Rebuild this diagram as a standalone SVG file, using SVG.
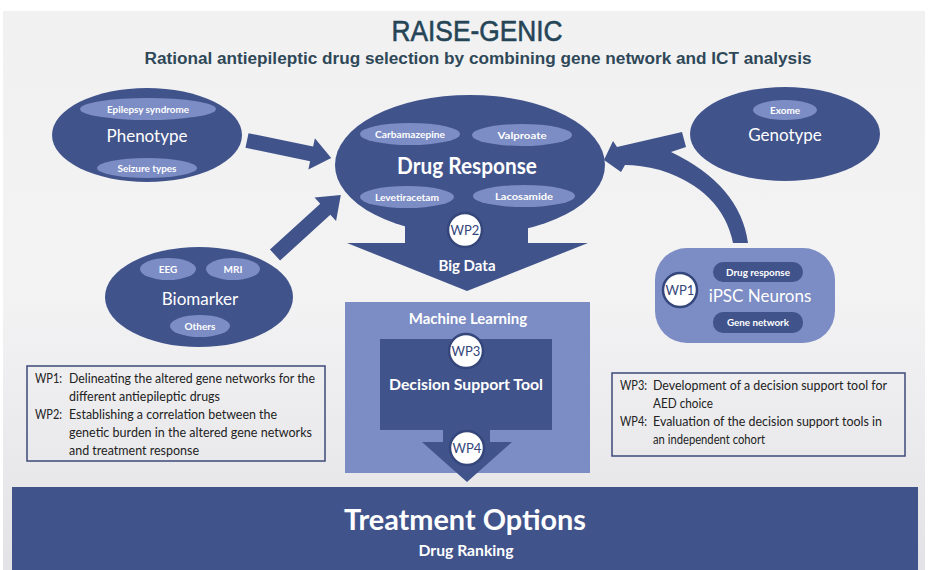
<svg xmlns="http://www.w3.org/2000/svg" width="930" height="570" viewBox="0 0 930 570">
<defs>
<linearGradient id="bg" x1="0" y1="0" x2="0" y2="1">
<stop offset="0" stop-color="#f1f1f2"/>
<stop offset="0.5" stop-color="#f3f3f4"/>
<stop offset="1" stop-color="#e3e3e7"/>
</linearGradient>
<style>
.dk{fill:#41538b}
.lt{fill:#7c8cc4}
.wt{fill:#ffffff;font-family:Lato,"Liberation Sans",sans-serif;text-anchor:middle}
.sm{font-size:10px;font-weight:bold}
.big{font-size:17px}
.wp{fill:#ffffff;stroke:#34467a;stroke-width:2.5}
.wpt{fill:#34467a;font-family:Lato,"Liberation Sans",sans-serif;font-size:13px;text-anchor:middle}
.box{fill:none;stroke:#3c4a78;stroke-width:1.5}
.bt{fill:#222;font-family:Lato,"Liberation Sans",sans-serif;font-size:13px}
.conn{fill:#41538b}
</style>
</defs>
<rect x="0" y="0" width="930" height="570" fill="#ffffff"/>
<rect x="3" y="11" width="922" height="559" fill="url(#bg)"/>

<g id="title">
<text x="477" y="41" font-family="'Liberation Sans',Arial,sans-serif" font-size="30" fill="#254557" stroke="#254557" stroke-width="0.6" text-anchor="middle" textLength="171" lengthAdjust="spacingAndGlyphs">RAISE-GENIC</text>
<text x="478" y="64" font-family="'Liberation Sans',Arial,sans-serif" font-size="16" font-weight="bold" fill="#2f4858" text-anchor="middle" textLength="667" lengthAdjust="spacingAndGlyphs">Rational antiepileptic drug selection by combining gene network and ICT analysis</text>
</g>

<g id="connectors">
<polygon class="conn" transform="translate(247,140.5) rotate(11.7)" points="0,-7.5 66,-7.5 66,-16 86,0 66,16 66,7.5 0,7.5"/>
<polygon class="conn" transform="translate(275,255) rotate(-42.3)" points="0,-7.5 68,-7.5 68,-16 89,0 68,16 68,7.5 0,7.5"/>
<path class="conn" d="M604,160 L613,141 L617,147 L682,132 L686,147 L671,152 Q740,185 748,243 L733,243 Q722,190 660,170 Q640,165 625,165 L621,172 Z"/>
</g>

<g id="phenotype">
<ellipse class="dk" cx="147" cy="135" rx="95" ry="47"/>
<ellipse class="lt" cx="148" cy="109" rx="68" ry="11"/>
<text class="wt sm" x="148" y="113" textLength="82" lengthAdjust="spacingAndGlyphs">Epilepsy syndrome</text>
<text class="wt big" x="147" y="142">Phenotype</text>
<ellipse class="lt" cx="147" cy="168" rx="50" ry="10"/>
<text class="wt sm" x="147" y="172" textLength="59" lengthAdjust="spacingAndGlyphs">Seizure types</text>
</g>

<g id="genotype">
<ellipse class="dk" cx="785" cy="134" rx="95" ry="47"/>
<ellipse class="lt" cx="785" cy="110" rx="32" ry="10"/>
<text class="wt sm" x="785" y="114">Exome</text>
<text class="wt big" x="785" y="141">Genotype</text>
</g>

<g id="biomarker">
<ellipse class="dk" cx="199" cy="297" rx="94" ry="50"/>
<ellipse class="lt" cx="168" cy="269" rx="28" ry="11"/>
<text class="wt sm" x="168" y="273">EEG</text>
<ellipse class="lt" cx="233" cy="269" rx="27" ry="11"/>
<text class="wt sm" x="233" y="273">MRI</text>
<text class="wt big" x="200" y="305">Biomarker</text>
<ellipse class="lt" cx="200" cy="326" rx="30" ry="11"/>
<text class="wt sm" x="200" y="330">Others</text>
</g>

<g id="drug-response">
<ellipse class="dk" cx="470" cy="165" rx="135" ry="70"/>
<polygon class="dk" points="405,225 528,225 528,243 588,243 467,291 347,243 405,243"/>
<ellipse class="lt" cx="410" cy="134" rx="50" ry="11"/>
<text class="wt sm" x="410" y="138" textLength="70" lengthAdjust="spacingAndGlyphs">Carbamazepine</text>
<ellipse class="lt" cx="522" cy="135" rx="50" ry="11"/>
<text class="wt sm" x="522" y="139" textLength="49" lengthAdjust="spacingAndGlyphs">Valproate</text>
<text class="wt" x="467" y="174" font-size="22" font-weight="bold" textLength="140" lengthAdjust="spacingAndGlyphs">Drug Response</text>
<ellipse class="lt" cx="407" cy="197" rx="47" ry="11"/>
<text class="wt sm" x="407" y="201" textLength="64" lengthAdjust="spacingAndGlyphs">Levetiracetam</text>
<ellipse class="lt" cx="524" cy="196" rx="51" ry="11"/>
<text class="wt sm" x="524" y="200" textLength="58" lengthAdjust="spacingAndGlyphs">Lacosamide</text>
<circle class="wp" cx="465" cy="230" r="17"/>
<text class="wpt" x="465" y="235">WP2</text>
<text class="wt" x="467" y="271" font-size="15" font-weight="bold">Big Data</text>
</g>

<g id="ipsc">
<rect class="lt" x="655" y="248" width="180" height="95" rx="32" ry="32"/>
<circle class="wp" cx="680" cy="290" r="17"/>
<text class="wpt" x="680" y="295">WP1</text>
<rect class="dk" x="713" y="262" width="90" height="20" rx="10" ry="10"/>
<text class="wt sm" x="758" y="276" textLength="64" lengthAdjust="spacingAndGlyphs">Drug response</text>
<text class="wt big" x="760" y="302">iPSC Neurons</text>
<rect class="dk" x="713" y="312" width="90" height="21" rx="10" ry="10"/>
<text class="wt sm" x="758" y="326" textLength="62" lengthAdjust="spacingAndGlyphs">Gene network</text>
</g>

<g id="machine-learning">
<rect class="lt" x="345" y="302" width="245" height="171"/>
<text class="wt" x="468" y="324" font-size="15" font-weight="bold">Machine Learning</text>
</g>

<g id="decision-support">
<rect class="dk" x="380" y="339" width="172" height="91"/>
<circle class="wp" cx="466" cy="351" r="17"/>
<text class="wpt" x="466" y="356">WP3</text>
<text class="wt" x="466" y="390" font-size="16" font-weight="bold" textLength="154" lengthAdjust="spacingAndGlyphs">Decision Support Tool</text>
<polygon class="dk" points="443,429 490,429 490,442 512,442 467,482 422,442 443,442"/>
<circle class="wp" cx="467" cy="448" r="17"/>
<text class="wpt" x="467" y="453">WP4</text>
</g>

<g id="wp12-box">
<rect class="box" x="27" y="366" width="298" height="95"/>
<text class="bt" x="35" y="383" textLength="27" lengthAdjust="spacingAndGlyphs">WP1:</text>
<text class="bt" x="69" y="383" textLength="246" lengthAdjust="spacingAndGlyphs">Delineating the altered gene networks for the</text>
<text class="bt" x="69" y="401" textLength="151" lengthAdjust="spacingAndGlyphs">different antiepileptic drugs</text>
<text class="bt" x="35" y="419" textLength="27" lengthAdjust="spacingAndGlyphs">WP2:</text>
<text class="bt" x="69" y="419" textLength="208" lengthAdjust="spacingAndGlyphs">Establishing a correlation between the</text>
<text class="bt" x="69" y="437" textLength="243" lengthAdjust="spacingAndGlyphs">genetic burden in the altered gene networks</text>
<text class="bt" x="69" y="455" textLength="130" lengthAdjust="spacingAndGlyphs">and treatment response</text>
</g>

<g id="wp34-box">
<rect class="box" x="612" y="373" width="293" height="83"/>
<text class="bt" x="620" y="390" textLength="27" lengthAdjust="spacingAndGlyphs">WP3:</text>
<text class="bt" x="653" y="390" textLength="234" lengthAdjust="spacingAndGlyphs">Development of a decision support tool for</text>
<text class="bt" x="653" y="408" textLength="60" lengthAdjust="spacingAndGlyphs">AED choice</text>
<text class="bt" x="620" y="426" textLength="27" lengthAdjust="spacingAndGlyphs">WP4:</text>
<text class="bt" x="653" y="426" textLength="229" lengthAdjust="spacingAndGlyphs">Evaluation of the decision support tools in</text>
<text class="bt" x="653" y="444" textLength="112" lengthAdjust="spacingAndGlyphs">an independent cohort</text>
</g>

<g id="treatment-options">
<rect class="dk" x="12" y="487" width="906" height="83"/>
<text class="wt" x="465" y="530" font-size="29" font-weight="bold" textLength="242" lengthAdjust="spacingAndGlyphs">Treatment Options</text>
<text class="wt" x="466" y="556" font-size="15" font-weight="bold" textLength="95" lengthAdjust="spacingAndGlyphs">Drug Ranking</text>
</g>
</svg>
